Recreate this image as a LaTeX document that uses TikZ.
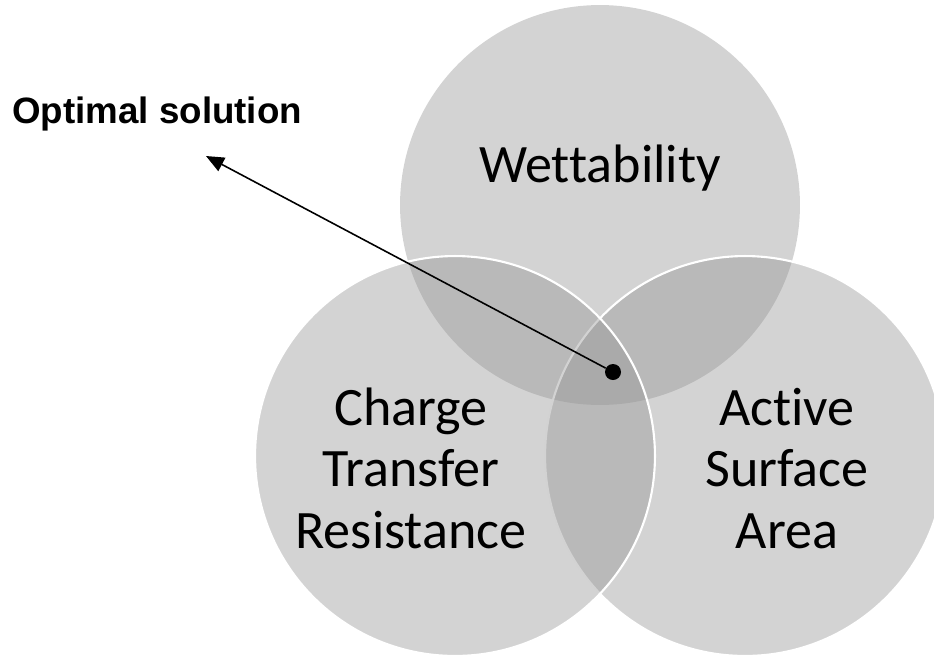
\documentclass[tikz,border=0pt]{standalone}
\usepackage{fontspec}
\setmainfont{Carlito}[Ligatures=NoCommon]
\newfontfamily\arialfont{Liberation Sans}
\usetikzlibrary{arrows.meta}

\tikzset{
  venn/.style={circle, minimum size=8cm, inner sep=0pt, fill=black!42, fill opacity=0.41, draw=white, line width=1.2pt},
  topic/.style={font=\fontsize{30.8pt}{35pt}\selectfont, align=center, inner sep=0pt, anchor=base},
}

\begin{document}
\begin{tikzpicture}[x=0.02cm, y=-0.02cm]
    \useasboundingbox (0,0) rectangle (934,657);
    \clip (0,0) rectangle (934,657);
    % the three sets, back to front
    \node[venn, draw=none] (wet) at (600,205) {};
    \node[venn] (area) at (745,456) {};
    \node[venn] (res) at (455,456) {};

    % set names (base = last line)
    \node[topic] (wetlbl) at (600,182) {Wettability};
    \node[topic] (reslbl) at (411,548) {Charge\\Transfer\\Resistance};
    \node[topic] (arealbl) at (787,548) {Active\\Surface\\Area};

    % pointer to the common region
    \node[font=\arialfont\bfseries\fontsize{20.9pt}{24pt}\selectfont, anchor=base west, inner sep=0pt] (optlbl) at (12,123) {Optimal solution};
    \node[circle, fill=black, inner sep=0pt, minimum size=0.32cm] (opt) at (613,372) {};
    \coordinate (tip) at (206,156);
    \draw[line width=0.9pt, -{Triangle[length=0.36cm,width=0.3cm]}] (opt) -- (tip);
\end{tikzpicture}
\end{document}
